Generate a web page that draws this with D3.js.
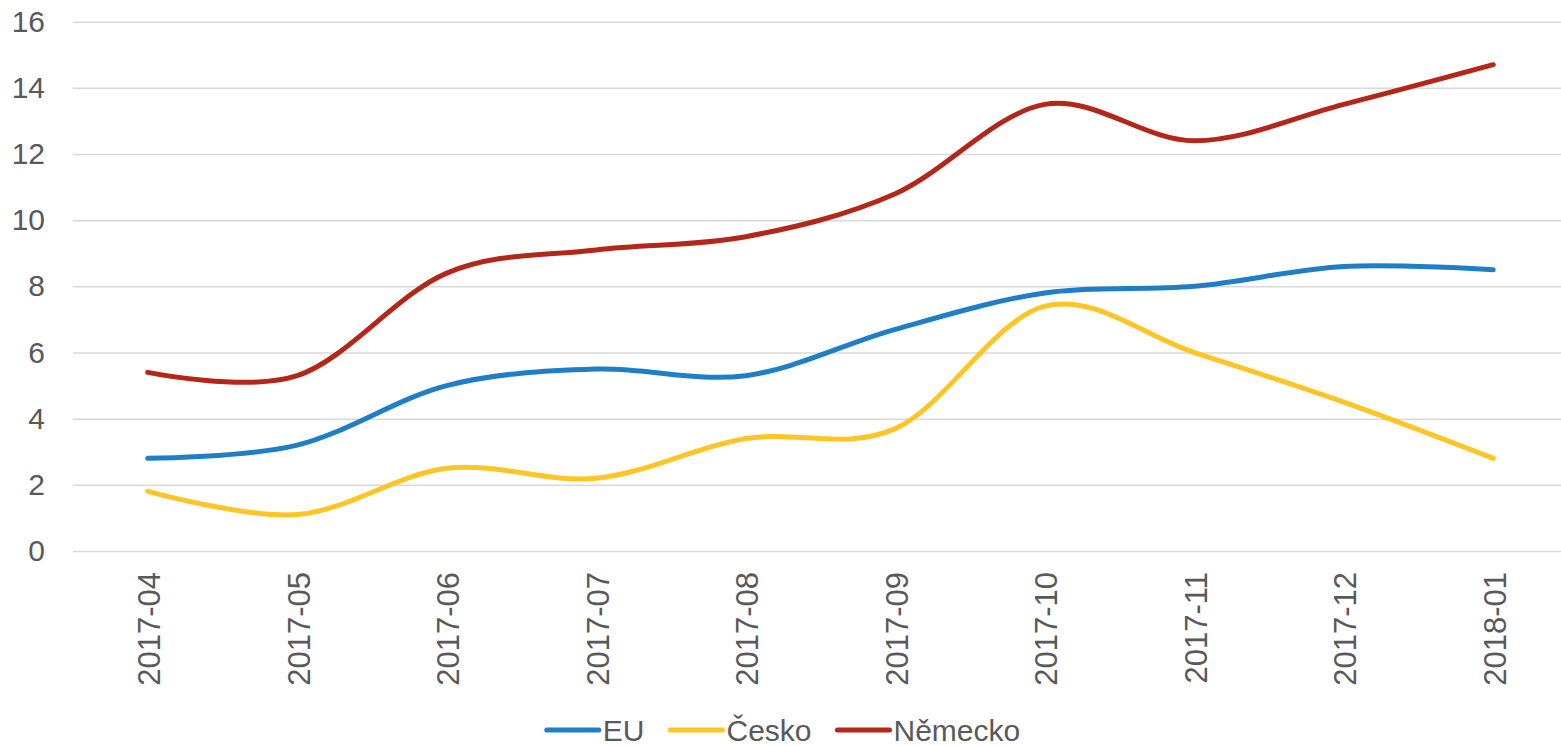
<!DOCTYPE html>
<html>
<head>
<meta charset="utf-8">
<script src="https://cdn.jsdelivr.net/npm/d3@7"></script>
<style>
    html, body { margin: 0; padding: 0; background: #fff; overflow: hidden; }
    svg { display: block; font-family: "Liberation Sans", Arial, sans-serif; }
</style>
</head>
<body>
<div id="chart"></div>
<script>
const months = ["2017-04", "2017-05", "2017-06", "2017-07", "2017-08", "2017-09", "2017-10", "2017-11", "2017-12", "2018-01"];
const euValues = [2.8, 3.2, 5.0, 5.5, 5.3, 6.7, 7.8, 8.0, 8.6, 8.5];
const ceskoValues = [1.8, 1.1, 2.5, 2.2, 3.4, 3.7, 7.4, 6.0, 4.5, 2.8];
const nemeckoValues = [5.4, 5.3, 8.4, 9.1, 9.5, 10.8, 13.5, 12.4, 13.5, 14.7];
const yTicks = [0, 2, 4, 6, 8, 10, 12, 14, 16];
const seriesNames = ["EU", "Česko", "Německo"];

function renderChart() {
    const outerWidth = 1561;
    const outerHeight = 746;
    const plotLeft = 73;
    const plotRight = 1568;
    const plotTop = 21.7;
    const plotBottom = 551;
    const textColor = "#595959";

    const svg = d3.select("#chart")
        .append("svg")
        .attr("width", outerWidth)
        .attr("height", outerHeight)
        .attr("viewBox", `0 0 ${outerWidth} ${outerHeight}`);

    const x = d3.scalePoint()
        .domain(months)
        .range([plotLeft, plotRight])
        .padding(0.5);
    const y = d3.scaleLinear()
        .domain([0, 16])
        .range([plotBottom, plotTop]);

    // gridlines
    svg.append("g")
        .attr("transform", `translate(${plotLeft}, 0)`)
        .call(d3.axisLeft(y).tickValues(yTicks).tickSize(-(plotRight - plotLeft)).tickFormat(""))
        .call((g) => g.select(".domain").remove())
        .call((g) => g.selectAll("line").attr("stroke", "#d9d9d9").attr("stroke-width", 1.5));

    // y labels
    svg.append("g")
        .attr("transform", "translate(45, 0)")
        .call(d3.axisLeft(y).tickValues(yTicks).tickSize(0).tickPadding(0))
        .call((g) => g.select(".domain").remove())
        .call((g) => g.selectAll("text")
            .attr("fill", textColor)
            .attr("font-size", 30)
            .attr("font-family", "Liberation Sans, Arial, sans-serif"));

    // x labels
    svg.append("g")
        .attr("transform", `translate(0, ${plotBottom})`)
        .call(d3.axisBottom(x).tickSize(0))
        .call((g) => g.select(".domain").remove())
        .call((g) => g.selectAll("text")
            .attr("fill", textColor)
            .attr("font-size", 31)
            .attr("font-family", "Liberation Sans, Arial, sans-serif")
            .attr("text-anchor", "end")
            .attr("transform", "rotate(-90)")
            .attr("x", -21)
            .attr("y", 1)
            .attr("dy", "0.35em"));

    const series = [
        {name: seriesNames[0], values: euValues, color: "#1f7ec6"},
        {name: seriesNames[1], values: ceskoValues, color: "#ffc425"},
        {name: seriesNames[2], values: nemeckoValues, color: "#b3261a"},
    ];

    const line = d3.line()
        .x((d, i) => x(months[i]))
        .y((d) => y(d))
        .curve(d3.curveCatmullRom.alpha(0));

    series.forEach((s) => {
        svg.append("path")
            .datum(s.values)
            .attr("fill", "none")
            .attr("stroke", s.color)
            .attr("stroke-width", 5)
            .attr("stroke-linecap", "round")
            .attr("stroke-linejoin", "round")
            .attr("d", line);
    });

    // legend
    const legend = svg.append("g");
    const legendY = 730;
    let cursor = 0;
    series.forEach((s, index) => {
        const item = legend.append("g").attr("transform", `translate(${cursor}, ${legendY})`);
        item.append("line")
            .attr("x1", 0)
            .attr("x2", 52)
            .attr("stroke", s.color)
            .attr("stroke-width", 5)
            .attr("stroke-linecap", "round");
        const label = item.append("text")
            .attr("x", 56)
            .attr("dy", "0.36em")
            .attr("fill", textColor)
            .attr("font-size", 30)
            .text(s.name);
        cursor += 56 + label.node().getComputedTextLength() + (index < series.length - 1 ? 26 : 0);
    });
    legend.attr("transform", `translate(${(outerWidth - cursor) / 2 + 3}, 0)`);
}

renderChart();
</script>
</body>
</html>
